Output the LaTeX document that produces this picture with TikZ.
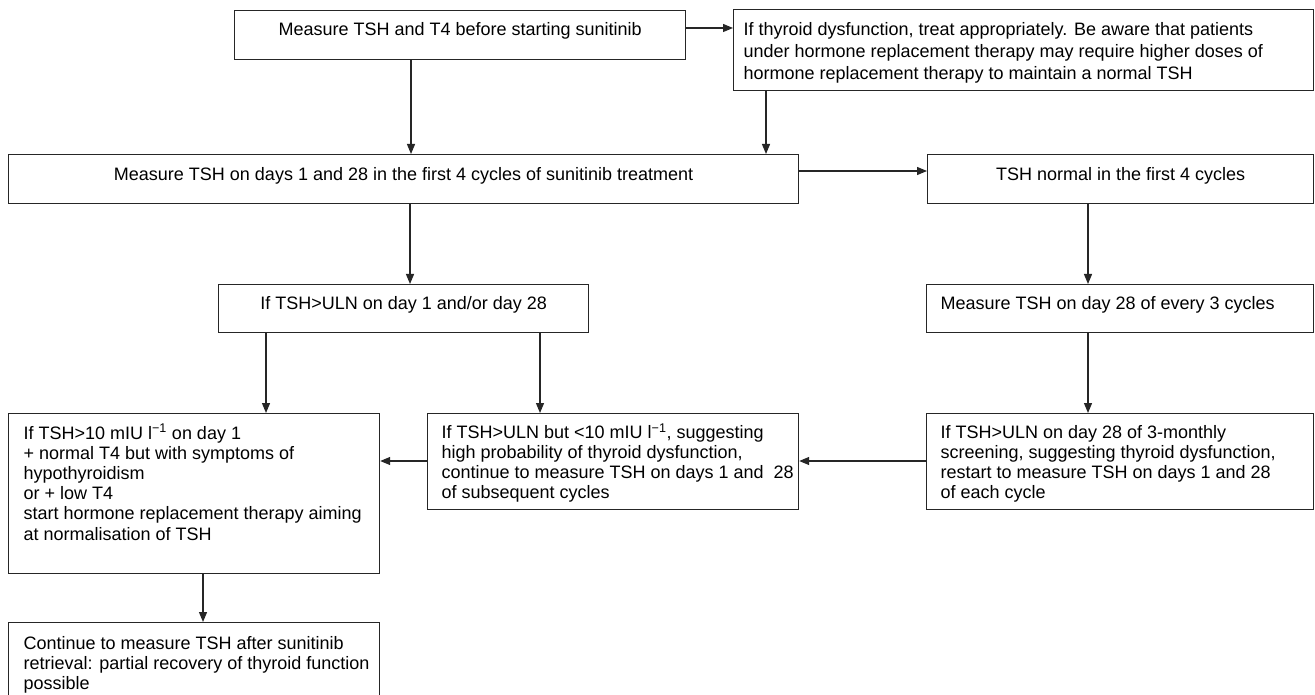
\documentclass[tikz,border=0pt]{standalone}
\usepackage{fontspec}
\setmainfont{Liberation Sans}
\usetikzlibrary{arrows.meta,calc}
% #1 width, #2 height, #3 first baseline offset, #4 baselineskip, #5 alignment, #6 text
\newcommand\flowtxt[6]{%
  \parbox[t][#2][t]{#1}{\fontsize{18pt}{#4}\selectfont
    \vspace*{\dimexpr#3-13pt\relax}#5\rule{0pt}{13pt}#6\par}}
\newcommand\lft[1]{\leftskip=#1\relax\rightskip=-200pt plus 1fil\relax\parfillskip=0pt plus 1fil\relax}
\newcommand\ctr{\leftskip=0pt plus 1fil\relax\rightskip=0pt plus 1fil\relax\parfillskip=0pt\relax}
\newcommand\supm{\smash{\textsuperscript{−1}}}
\tikzset{
  flowbox/.style={draw=black!85, line width=1.2pt, inner sep=0pt, anchor=north west},
  arr/.style={draw=black!85, line width=1.2pt, -{Triangle[length=10pt,width=8pt]}}
}
\begin{document}
\begin{tikzpicture}[x=1pt,y=1pt]
\useasboundingbox (0,0) rectangle (1315,-695);
\clip (0,0) rectangle (1315,-695);
\fill[white] (0,0) rectangle (1315,-695);

\node[flowbox] (b1) at (234,-10)
  {\flowtxt{451pt}{49pt}{24.5pt}{20.3pt}{\ctr}{Measure TSH and T4 before starting sunitinib}};
\node[flowbox] (b2) at (733,-9)
  {\flowtxt{580pt}{81pt}{26pt}{21.7pt}{\lft{10pt}}{If thyroid dysfunction, treat appropriately. Be aware that patients\\under hormone replacement therapy may require higher doses of\\hormone replacement therapy to maintain a normal TSH}};
\node[flowbox] (b3) at (8,-154)
  {\flowtxt{790pt}{49pt}{26pt}{20.3pt}{\ctr}{Measure TSH on days 1 and 28 in the first 4 cycles of sunitinib treatment}};
\node[flowbox] (b4) at (927,-154)
  {\flowtxt{386pt}{49pt}{26pt}{20.3pt}{\ctr}{TSH normal in the first 4 cycles}};
\node[flowbox] (b5) at (218,-284)
  {\flowtxt{370pt}{48pt}{24.5pt}{20.3pt}{\ctr}{If TSH>ULN on day 1 and/or day 28}};
\node[flowbox] (b6) at (926,-284)
  {\flowtxt{387pt}{48pt}{24.5pt}{20.3pt}{\lft{14pt}}{Measure TSH on day 28 of every 3 cycles}};
\node[flowbox] (b7) at (8,-413)
  {\flowtxt{371pt}{160pt}{25.5pt}{20.2pt}{\lft{15pt}}{If TSH>10 mIU l\supm{} on day 1\\+ normal T4 but with symptoms of\\hypothyroidism\\or + low T4\\start hormone replacement therapy aiming\\at normalisation of TSH}};
\node[flowbox] (b8) at (427,-413)
  {\flowtxt{371pt}{96pt}{25pt}{20pt}{\lft{14pt}}{If TSH>ULN but <10 mIU l\supm, suggesting\\high probability of thyroid dysfunction,\\continue to measure TSH on days 1 and\ \ 28\\of subsequent cycles}};
\node[flowbox] (b9) at (926,-413)
  {\flowtxt{387pt}{96pt}{25pt}{20pt}{\lft{14pt}}{If TSH>ULN on day 28 of 3-monthly\\screening, suggesting thyroid dysfunction,\\restart to measure TSH on days 1 and 28\\of each cycle}};
\node[flowbox] (b10) at (8,-622)
  {\flowtxt{371pt}{82pt}{26.5pt}{20pt}{\lft{15pt}}{Continue to measure TSH after sunitinib\\retrieval: partial recovery of thyroid function\\possible}};

% connectors
\coordinate (p12) at ($(b1.north east)+(0,-18)$);
\draw[arr] (p12) -- (p12 -| b2.west);
\coordinate (p13) at ($(b1.south west)+(177,0)$);
\draw[arr] (p13) -- (p13 |- b3.north);
\coordinate (p23) at ($(b2.south west)+(33,0)$);
\draw[arr] (p23) -- (p23 |- b3.north);
\coordinate (p34) at ($(b3.north east)+(0,-17)$);
\draw[arr] (p34) -- (p34 -| b4.west);
\coordinate (p35) at ($(b3.south west)+(402,0)$);
\draw[arr] (p35) -- (p35 |- b5.north);
\coordinate (p46) at ($(b4.south west)+(161,0)$);
\draw[arr] (p46) -- (p46 |- b6.north);
\coordinate (p57) at ($(b5.south west)+(48,0)$);
\draw[arr] (p57) -- (p57 |- b7.north);
\coordinate (p58) at ($(b5.south west)+(322,0)$);
\draw[arr] (p58) -- (p58 |- b8.north);
\coordinate (p69) at ($(b6.south west)+(162,0)$);
\draw[arr] (p69) -- (p69 |- b9.north);
\coordinate (p98) at ($(b9.north west)+(0,-48)$);
\draw[arr] (p98) -- (p98 -| b8.east);
\coordinate (p87) at ($(b8.north west)+(0,-48)$);
\draw[arr] (p87) -- (p87 -| b7.east);
\coordinate (p710) at ($(b7.south west)+(195,0)$);
\draw[arr] (p710) -- (p710 |- b10.north);
\end{tikzpicture}
\end{document}
